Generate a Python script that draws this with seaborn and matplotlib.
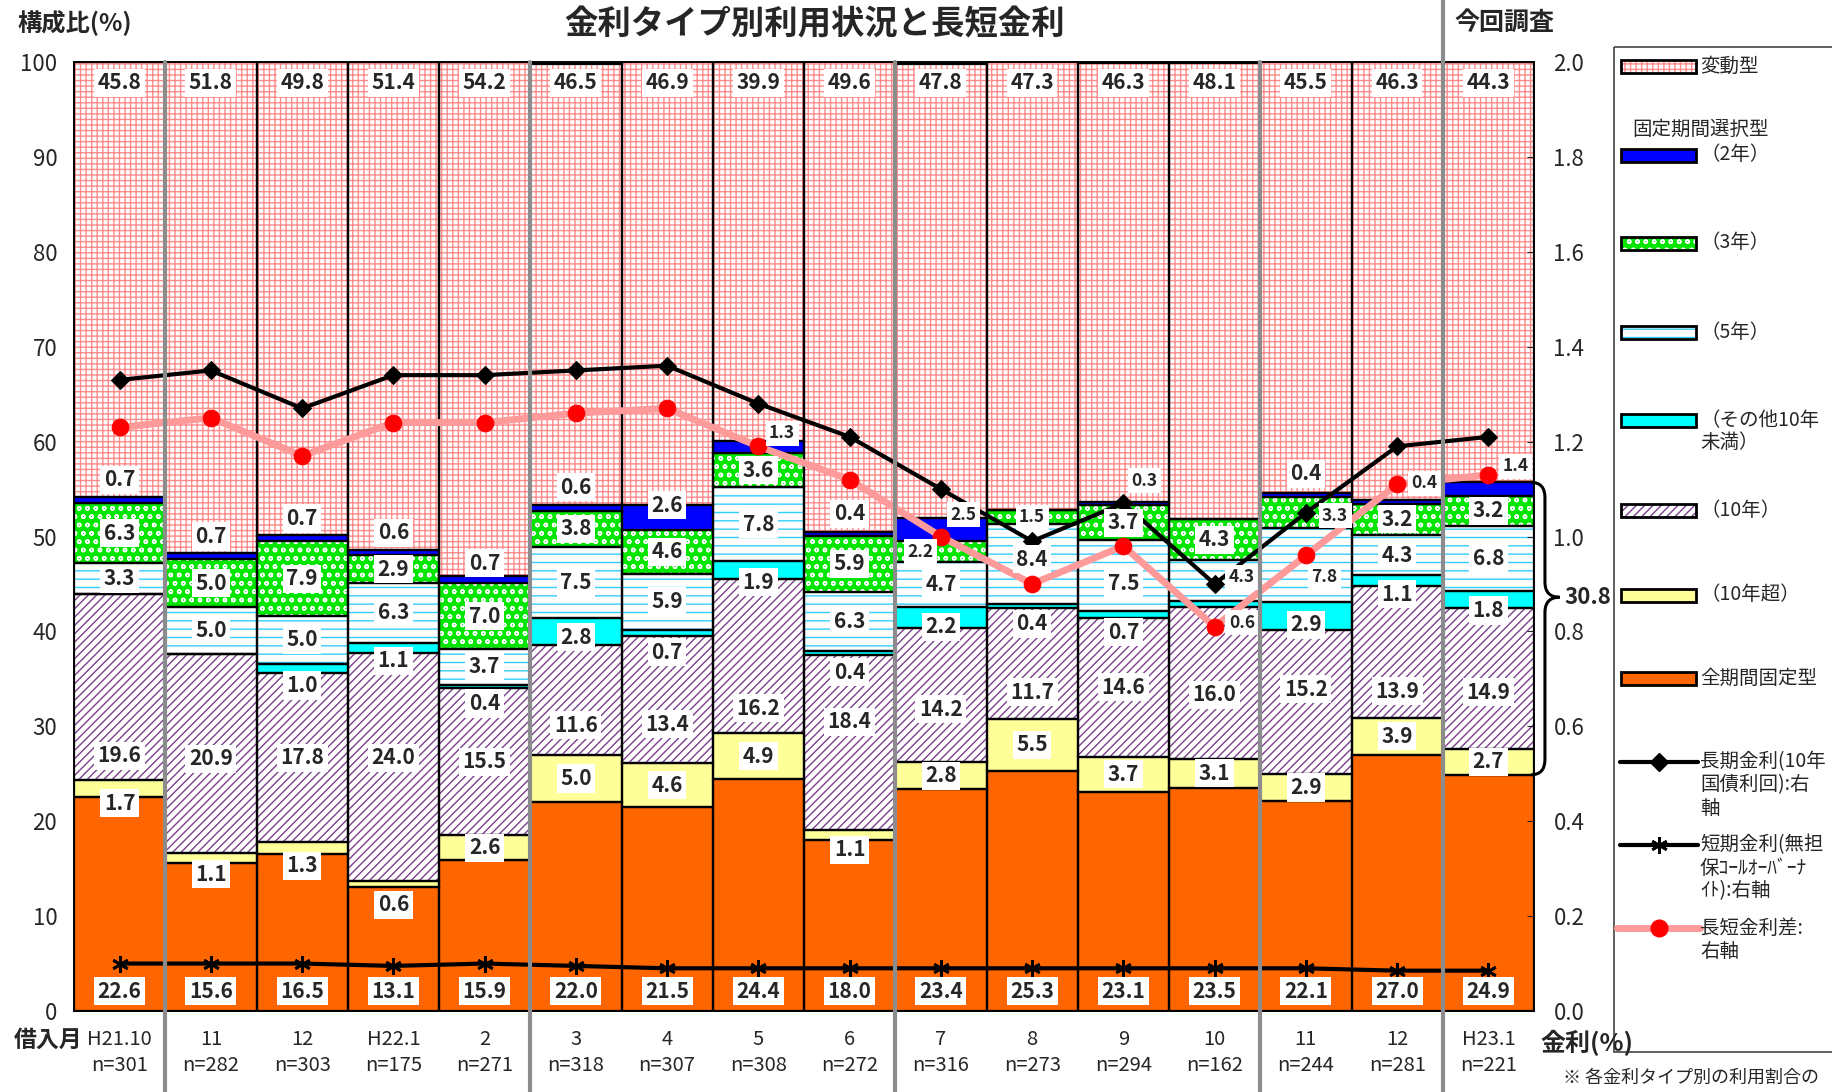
import numpy as np
import seaborn as sns
import matplotlib.pyplot as plt
from matplotlib.patches import Rectangle, PathPatch
from matplotlib.path import Path

# -------------------------------
# Data
# -------------------------------
months = ["H21.10", "11", "12", "H22.1", "2", "3", "4", "5", "6",
          "7", "8", "9", "10", "11", "12", "H23.1"]
n_counts = [301, 282, 303, 175, 271, 318, 307, 308, 272,
            316, 273, 294, 162, 244, 281, 221]

fixed_all = [22.6, 15.6, 16.5, 13.1, 15.9, 22.0, 21.5, 24.4, 18.0, 23.4, 25.3, 23.1, 23.5, 22.1, 27.0, 24.9]
over_10y = [1.7, 1.1, 1.3, 0.6, 2.6, 5.0, 4.6, 4.9, 1.1, 2.8, 5.5, 3.7, 3.1, 2.9, 3.9, 2.7]
fixed_10y = [19.6, 20.9, 17.8, 24.0, 15.5, 11.6, 13.4, 16.2, 18.4, 14.2, 11.7, 14.6, 16.0, 15.2, 13.9, 14.9]
other_u10 = [0.0, 0.0, 1.0, 1.1, 0.4, 2.8, 0.7, 1.9, 0.4, 2.2, 0.4, 0.7, 0.6, 2.9, 1.1, 1.8]
fixed_5y = [3.3, 5.0, 5.0, 6.3, 3.7, 7.5, 5.9, 7.8, 6.3, 4.7, 8.4, 7.5, 4.3, 7.8, 4.3, 6.8]
fixed_3y = [6.3, 5.0, 7.9, 2.9, 7.0, 3.8, 4.6, 3.6, 5.9, 2.2, 1.5, 3.7, 4.3, 3.3, 3.2, 3.2]
fixed_2y = [0.7, 0.7, 0.7, 0.6, 0.7, 0.6, 2.6, 1.3, 0.4, 2.5, 0.0, 0.3, 0.0, 0.4, 0.4, 1.4]
variable = [45.8, 51.8, 49.8, 51.4, 54.2, 46.5, 46.9, 39.9, 49.6, 47.8, 47.3, 46.3, 48.1, 45.5, 46.3, 44.3]

long_rate = [1.33, 1.35, 1.27, 1.34, 1.34, 1.35, 1.36, 1.28, 1.21, 1.10, 0.99, 1.07, 0.90, 1.05, 1.19, 1.21]
short_rate = [0.10, 0.10, 0.10, 0.095, 0.10, 0.095, 0.09, 0.09, 0.09, 0.09, 0.09, 0.09, 0.09, 0.09, 0.085, 0.085]
rate_spread = [1.23, 1.25, 1.17, 1.24, 1.24, 1.26, 1.27, 1.19, 1.12, 1.00, 0.90, 0.98, 0.81, 0.96, 1.11, 1.13]

group_breaks = [0.5, 4.5, 8.5, 12.5, 14.5]

# -------------------------------
# Styles
# -------------------------------
# key, values, face, hatch, hatch colour
layers = [
    ("all", fixed_all, "#ff6600", None, None),
    ("o10", over_10y, "#ffff99", None, None),
    ("y10", fixed_10y, "white", "////", "#7b3f8c"),
    ("oth", other_u10, "#00ffff", None, None),
    ("y5", fixed_5y, "white", "--", "#33ccff"),
    ("y3", fixed_3y, "#00e600", "oo", "white"),
    ("y2", fixed_2y, "#0000ff", None, None),
    ("var", variable, "white", "+++", "#ff8c8c"),
]
style = {k: (f, h, c) for k, _, f, h, c in layers}

# hand-placed data labels (as in the original sheet)
label_y = {
    "y2": {0: 56.0, 1: 50.0, 2: 51.9, 3: 50.4, 4: 47.2, 5: 55.2, 6: 53.3, 7: 60.9, 8: 52.4,
           9: 52.3, 11: 55.9, 13: 56.6, 14: 55.6, 15: 57.4},
    "oth": {2: 34.3, 3: 36.9, 4: 32.4, 5: 39.4, 6: 37.8, 7: 45.2, 8: 35.7, 9: 40.5, 10: 40.8,
            11: 39.9, 12: 40.9, 13: 40.7, 14: 43.9, 15: 42.2},
    "y10": {0: 26.9, 1: 26.6, 3: 26.7, 5: 30.1, 6: 30.2, 7: 31.9, 8: 30.5, 9: 31.8, 10: 33.6,
            12: 33.3, 13: 33.9, 14: 33.7, 15: 33.6},
    "o10": {0: 21.9, 1: 14.4, 2: 15.3, 3: 11.2, 8: 17.0},
    "y5": {10: 47.6, 11: 45.0, 12: 45.7, 13: 45.7},
    "y3": {13: 52.2},
}
label_dx = {("y2", 7): 0.26, ("y2", 9): 0.25, ("y3", 9): -0.22, ("y2", 11): 0.23,
            ("y5", 12): 0.3, ("oth", 12): 0.3, ("y3", 13): 0.32, ("y5", 13): 0.2,
            ("y2", 14): 0.3, ("y2", 15): 0.3}

sns.set_style("ticks")
plt.rcParams['font.family'] = ['Noto Sans CJK JP', 'DejaVu Sans']
plt.rcParams['hatch.linewidth'] = 1.0

W, H = 1832, 1092
fig = plt.figure(figsize=(W / 100, H / 100), dpi=100)
ax = fig.add_axes([74 / W, 1 - 1011 / H, (1534 - 74) / W, (1011 - 62) / H])

# -------------------------------
# Stacked bars
# -------------------------------
x = np.arange(len(months))
bottom = np.zeros(len(months))
bottoms = {}
for key, vals, face, hatch, hcol in layers:
    vals = np.array(vals)
    ax.bar(x, vals, bottom=bottom, width=1.0, color=face, hatch=hatch,
           edgecolor=hcol if hatch else face, linewidth=0, zorder=1)
    ax.bar(x, vals, bottom=bottom, width=1.0, fill=False, edgecolor="black",
           linewidth=1.6, zorder=2)
    bottoms[key] = bottom.copy()
    bottom = bottom + vals

ax.set_xlim(-0.5, len(months) - 0.5)
ax.set_ylim(0, 100)
ax.set_yticks(range(0, 101, 10))
ax.set_xticks(x)
ax.set_xticklabels([f"{m}\nn={n}" for m, n in zip(months, n_counts)])
for lbl in ax.get_xticklabels():
    lbl.set_linespacing(1.3)
ax.tick_params(axis="y", direction="in", length=5, labelsize=16, pad=12)
ax.tick_params(axis="x", length=0, labelsize=14.5, pad=13)
for sp in ax.spines.values():
    sp.set_color("black")
    sp.set_linewidth(1.2)

# brace for the fixed-period-selection total of the latest survey
last = len(months) - 1
b_lo = fixed_all[last]
b_hi = bottoms["y2"][last] + fixed_2y[last]
sel_total = round(b_hi - b_lo, 1)
x0, x1, x2, ytip, r = last + 0.47, last + 0.62, last + 0.78, 43.6, 1.6
verts = [(x0, b_hi), (x1, b_hi), (x1, b_hi - r), (x1, ytip + r), (x1, ytip), (x2, ytip),
         (x1, ytip), (x1, ytip - r), (x1, b_lo + r), (x1, b_lo), (x0, b_lo)]
codes = [Path.MOVETO, Path.CURVE3, Path.CURVE3, Path.LINETO, Path.CURVE3, Path.CURVE3,
         Path.CURVE3, Path.CURVE3, Path.LINETO, Path.CURVE3, Path.CURVE3]
ax.add_patch(PathPatch(Path(verts, codes), fill=False, edgecolor="black", lw=2.2,
                       clip_on=False, zorder=6))
ax.text(last + 0.83, ytip, f"{sel_total:.1f}", ha="left", va="center", fontsize=16,
        fontweight="bold", clip_on=False)

# -------------------------------
# Interest-rate lines (right axis)
# -------------------------------
ax2 = ax.twinx()
sns.lineplot(x=x, y=long_rate, ax=ax2, color="black", lw=3, marker="D", markersize=9.5,
             markeredgecolor="black", legend=False, zorder=5)
sns.lineplot(x=x, y=short_rate, ax=ax2, color="black", lw=3, marker=(6, 2, 0),
             markersize=12, markeredgewidth=2, markeredgecolor="black", legend=False, zorder=5)
sns.lineplot(x=x, y=rate_spread, ax=ax2, color="#ff9a9a", lw=5, marker="o", markersize=12,
             markerfacecolor="red", markeredgecolor="red", legend=False, zorder=6)
ax2.set_ylim(0, 2.0)
ax2.set_yticks(np.arange(0, 2.01, 0.2))
ax2.set_yticklabels([f"{t:.1f}" for t in np.arange(0, 2.01, 0.2)])
ax2.tick_params(axis="y", direction="in", length=5, labelsize=16, pad=14)
ax2.set_xlim(-0.5, len(months) - 0.5)
for sp in ax2.spines.values():
    sp.set_color("black")
    sp.set_linewidth(1.2)

# data labels (drawn over the rate lines, in bar coordinates)
for key, vals, *_ in layers:
    for i, v in enumerate(vals):
        if v == 0:
            continue
        if key == "var":
            y = 97.8
        elif key == "all":
            y = 2.1
        else:
            y = bottoms[key][i] + v / 2
        y = label_y.get(key, {}).get(i, y)
        dx = label_dx.get((key, i), 0)
        small = (key, i) in label_dx or (key, i) == ("y3", 10)
        ax2.text(i + dx, y, f"{v:.1f}", transform=ax.transData, ha="center", va="center",
                 fontsize=12.5 if small else 15, fontweight="bold", zorder=7,
                 bbox=dict(facecolor="white", edgecolor="none", pad=2.5))

for b in group_breaks:
    ax2.axvline(b, ymin=-0.09, ymax=1.07 if b == group_breaks[-1] else 1.0,
                color="#8c8c8c", lw=3, clip_on=False, zorder=10)

# -------------------------------
# Headings, footnote and legend (pixel overlay)
# -------------------------------
ov = fig.add_axes([0, 0, 1, 1])
ov.set_xlim(0, W)
ov.set_ylim(H, 0)
ov.axis("off")

ov.text(17, 23, "構成比(%)", fontsize=17.5, fontweight="bold", va="center")
ov.text(815, 25, "金利タイプ別利用状況と長短金利", fontsize=24, fontweight="bold",
        ha="center", va="center")
ov.text(1504, 23, "今回調査", fontsize=18, fontweight="bold", ha="center", va="center")
ov.text(14, 1040, "借入月", fontsize=16.5, fontweight="bold", va="center")
ov.text(1540, 1043, "金利(%)", fontsize=18, fontweight="bold", va="center")
ov.text(1563, 1078, "※ 各金利タイプ別の利用割合の", fontsize=13, va="center")

ov.add_patch(Rectangle((1614, 47), 260, 1005, fill=False, edgecolor="#444444", lw=1.2,
                       clip_on=False))

patch_items = [("var", "変動型", 66), ("y2", "（2年）", 155), ("y3", "（3年）", 243),
               ("y5", "（5年）", 332), ("oth", "（その他10年\n未満）", 420),
               ("y10", "（10年）", 510), ("o10", "（10年超）", 595), ("all", "全期間固定型", 678)]
for key, text, yc in patch_items:
    face, hatch, hcol = style[key]
    ov.add_patch(Rectangle((1621, yc - 6.5), 75, 13, facecolor=face, hatch=hatch,
                           edgecolor=hcol if hatch else face, lw=0))
    ov.add_patch(Rectangle((1621, yc - 6.5), 75, 13, fill=False, edgecolor="black", lw=2))
    for k, line in enumerate(text.split("\n")):
        ov.text(1700, yc + k * 23, line, fontsize=14, va="center")
ov.text(1632, 129, "固定期間選択型", fontsize=14, va="center")

line_items = [("長期金利(10年\n国債利回):右\n軸", 762), ("短期金利(無担\n保ｺｰﾙｵｰﾊﾞｰﾅ\nｲﾄ):右軸", 845),
              ("長短金利差:\n右軸", 928)]
ov.plot([1620, 1698], [762, 762], color="black", lw=3)
ov.plot([1659], [762], marker="D", ms=9, color="black")
ov.plot([1620, 1698], [845, 845], color="black", lw=3)
ov.plot([1659], [845], marker=(6, 2, 0), ms=12, mew=2, color="black")
ov.plot([1617, 1700], [928, 928], color="#ff9a9a", lw=5)
ov.plot([1659], [928], marker="o", ms=12, color="red")
for text, yc in line_items:
    for k, line in enumerate(text.split("\n")):
        ov.text(1700, yc + k * 23, line, fontsize=14, va="center")

plt.savefig("out.png", dpi=100)
plt.close()
